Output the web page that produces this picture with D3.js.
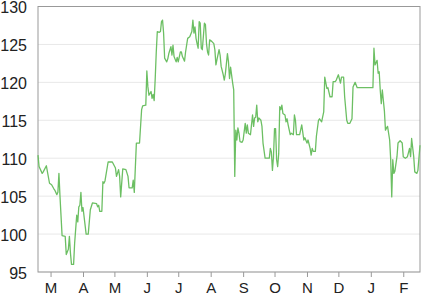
<!DOCTYPE html>
<html>
<head>
<meta charset="utf-8">
<script src="https://cdn.jsdelivr.net/npm/d3@7"></script>
<style>
body { margin: 0; background: #fff; }
</style>
</head>
<body>
<script>
const svg_width = 433;
const svg_height = 295;
const margin = {top: 6.5, right: 13, bottom: 23, left: 38};
const line_color = '#6cbf63';

const x_start = '2013-02-17';
const x_end = '2014-02-17';
const y_ticks = [95, 100, 105, 110, 115, 120, 125, 130];
const month_ticks = ['2013-03-01', '2013-04-01', '2013-05-01', '2013-06-01', '2013-07-01', '2013-08-01',
    '2013-09-01', '2013-10-01', '2013-11-01', '2013-12-01', '2014-01-01', '2014-02-01'];
const month_labels = ['M', 'A', 'M', 'J', 'J', 'A', 'S', 'O', 'N', 'D', 'J', 'F'];

const dates = [
    '2013-02-17', '2013-02-18', '2013-02-21', '2013-02-22', '2013-02-25', '2013-02-28',
    '2013-03-02', '2013-03-04', '2013-03-05', '2013-03-07', '2013-03-08', '2013-03-09', '2013-03-10',
    '2013-03-12', '2013-03-15', '2013-03-16', '2013-03-18', '2013-03-19', '2013-03-20', '2013-03-21',
    '2013-03-23', '2013-03-24', '2013-03-26', '2013-03-27', '2013-03-28', '2013-03-29', '2013-03-30',
    '2013-03-31', '2013-04-01', '2013-04-04', '2013-04-06', '2013-04-08', '2013-04-10', '2013-04-14',
    '2013-04-15', '2013-04-16', '2013-04-17', '2013-04-19', '2013-04-20', '2013-04-21', '2013-04-22',
    '2013-04-25', '2013-04-29', '2013-05-02', '2013-05-03', '2013-05-05', '2013-05-06', '2013-05-07',
    '2013-05-09', '2013-05-12', '2013-05-14', '2013-05-15', '2013-05-18', '2013-05-19', '2013-05-20',
    '2013-05-22', '2013-05-25', '2013-05-27', '2013-05-28', '2013-05-31', '2013-06-01', '2013-06-02',
    '2013-06-03', '2013-06-05', '2013-06-06', '2013-06-07', '2013-06-08', '2013-06-09', '2013-06-10',
    '2013-06-11', '2013-06-13', '2013-06-14', '2013-06-15', '2013-06-16', '2013-06-17', '2013-06-18',
    '2013-06-20', '2013-06-21', '2013-06-22', '2013-06-24', '2013-06-25', '2013-06-26', '2013-06-27',
    '2013-06-29', '2013-06-30', '2013-07-01', '2013-07-03', '2013-07-04', '2013-07-05', '2013-07-07',
    '2013-07-08', '2013-07-10', '2013-07-12', '2013-07-14', '2013-07-15', '2013-07-16', '2013-07-17',
    '2013-07-18', '2013-07-19', '2013-07-20', '2013-07-21', '2013-07-22', '2013-07-23', '2013-07-24',
    '2013-07-26', '2013-07-27', '2013-07-28', '2013-07-29', '2013-07-30', '2013-07-31', '2013-08-02',
    '2013-08-04', '2013-08-05', '2013-08-06', '2013-08-07', '2013-08-09', '2013-08-10', '2013-08-11',
    '2013-08-13', '2013-08-14', '2013-08-15', '2013-08-17', '2013-08-18', '2013-08-19', '2013-08-20',
    '2013-08-22', '2013-08-23', '2013-08-24', '2013-08-25', '2013-08-26', '2013-08-27', '2013-08-28',
    '2013-08-29', '2013-08-31', '2013-09-01', '2013-09-03', '2013-09-04', '2013-09-05', '2013-09-06',
    '2013-09-08', '2013-09-09', '2013-09-10', '2013-09-11', '2013-09-12', '2013-09-13', '2013-09-14',
    '2013-09-15', '2013-09-16', '2013-09-18', '2013-09-19', '2013-09-20', '2013-09-22', '2013-09-26',
    '2013-09-27', '2013-09-28', '2013-09-29', '2013-09-30', '2013-10-01', '2013-10-02', '2013-10-03',
    '2013-10-04', '2013-10-05', '2013-10-06', '2013-10-07', '2013-10-08', '2013-10-09', '2013-10-11',
    '2013-10-12', '2013-10-13', '2013-10-14', '2013-10-16', '2013-10-17', '2013-10-19', '2013-10-20',
    '2013-10-21', '2013-10-22', '2013-10-25', '2013-10-27', '2013-10-29', '2013-10-30', '2013-11-01',
    '2013-11-02', '2013-11-04', '2013-11-05', '2013-11-06', '2013-11-07', '2013-11-09', '2013-11-10',
    '2013-11-12', '2013-11-13', '2013-11-15', '2013-11-17', '2013-11-18', '2013-11-20', '2013-11-21',
    '2013-11-23', '2013-11-25', '2013-11-26', '2013-11-28', '2013-11-29', '2013-12-01', '2013-12-03',
    '2013-12-04', '2013-12-06', '2013-12-07', '2013-12-09', '2013-12-10', '2013-12-12', '2013-12-14',
    '2013-12-15', '2013-12-17', '2013-12-19', '2014-01-03', '2014-01-04', '2014-01-05', '2014-01-07',
    '2014-01-08', '2014-01-09', '2014-01-10', '2014-01-11', '2014-01-12', '2014-01-14', '2014-01-15',
    '2014-01-16', '2014-01-17', '2014-01-19', '2014-01-20', '2014-01-21', '2014-01-22', '2014-01-23',
    '2014-01-24', '2014-01-26', '2014-01-27', '2014-01-29', '2014-01-31', '2014-02-01', '2014-02-03',
    '2014-02-05', '2014-02-07', '2014-02-08', '2014-02-09', '2014-02-11', '2014-02-12', '2014-02-14',
    '2014-02-15', '2014-02-17'
];

const values = [
    110.4, 108.9, 108, 108.2, 109, 106.7,
    106.5, 106, 105.8, 105.2, 105.5, 108, 105,
    99.8, 99.7, 97.3, 98, 99.7, 97.5, 96,
    96, 98.8, 102.5, 101.6, 103.6, 103.8, 105.5,
    103, 103.5, 100, 100, 103.2, 104.1, 104,
    103.6, 103.8, 103, 103, 106.9, 106.7, 107,
    109.5, 109.5, 108.7, 107.6, 108.5, 107.6, 104.9,
    108.6, 108.5, 107.6, 106.1, 106.1, 107.1, 105.5,
    112, 112, 116.4, 116.9, 117, 121.5, 119.4,
    118.3, 118.8, 117.9, 118.4, 117.6, 120.5, 124,
    126.7, 126.6, 126.7, 128, 128.2, 126.5, 123.2,
    122.7, 123.1, 123.8, 124.7, 123.6, 124.9, 123.4,
    122.7, 123.3, 122.7, 124, 124, 123.4, 122.8,
    124, 125.8, 126, 126.7, 128.2, 126.5, 127.3,
    125.8, 125.1, 124.5, 128, 127.8, 124.5, 124.3,
    127.8, 127.6, 125.1, 124, 123.6, 125.6, 125.4,
    125.1, 124.3, 122.3, 123, 124.3, 123.6, 122.1,
    121, 120.3, 121.1, 123.8, 122.7, 120.5, 122,
    119.9, 119, 107.6, 113.7, 112.4, 114, 113.3,
    112.2, 112.1, 112.4, 114.6, 113.3, 114.4, 113.3,
    113.1, 114.4, 115.7, 114.2, 115.3, 115.4, 117,
    114.8, 115.3, 115, 114.2, 112, 110, 110,
    111.3, 110.8, 108.4, 110.2, 113.9, 113.9, 109.8,
    108.9, 110.6, 116.8, 116.4, 117, 115.9, 115.7,
    114.8, 115.2, 114.4, 113.1, 113.3, 113.1, 115.7,
    115, 113.1, 113.1, 114.4, 112.4, 112.7, 112,
    112.4, 111.3, 110.4, 111.3, 110.9, 110.9, 112.9,
    115, 115.2, 114.8, 116.1, 120.7, 119.2, 119.3,
    118.1, 118.1, 120.1, 120.1, 120.3, 121, 119.9,
    120.7, 120.7, 118.1, 115, 114.6, 114.6, 115.2,
    119.4, 120, 119.3, 119.3, 124.5, 122.3, 122.9,
    121.2, 121.4, 119, 117.2, 119, 116.2, 113.7,
    114, 114.2, 112.4, 109.8, 104.9, 109.8, 108,
    108.3, 110.2, 112, 112.3, 112, 110.2, 110,
    110.2, 111.3, 110.2, 112.6, 110.2, 108.2, 108,
    108.4, 111.7
];

const parse = d3.timeParse('%Y-%m-%d');
const data = dates.map((d, i) => ({date: parse(d), value: values[i]}));

const svg = d3.select('body')
    .append('svg')
    .attr('width', svg_width)
    .attr('height', svg_height)
    .style('font-family', '"Liberation Sans", Arial, sans-serif');

const x = d3.scaleTime()
    .domain([parse(x_start), parse(x_end)])
    .range([margin.left, svg_width - margin.right]);
const y = d3.scaleLinear()
    .domain([95, 130])
    .range([svg_height - margin.bottom, margin.top]);

// gridlines
svg.append('g')
    .selectAll('line')
    .data(y_ticks)
    .enter()
    .append('line')
    .attr('x1', margin.left)
    .attr('x2', svg_width - margin.right)
    .attr('y1', d => y(d))
    .attr('y2', d => y(d))
    .attr('stroke', '#e8e8e8')
    .attr('stroke-width', 1);

const x_axis = svg.append('g')
    .attr('transform', `translate(0, ${svg_height - margin.bottom})`)
    .call(d3.axisBottom(x)
        .tickValues(month_ticks.map(parse))
        .tickFormat((d, i) => month_labels[i])
        .tickSize(5)
        .tickPadding(5));
x_axis.select('.domain').remove();
x_axis.selectAll('line').attr('stroke', '#999');
x_axis.selectAll('text').attr('font-size', 15).attr('fill', '#222').attr('font-family', null);

const y_axis = svg.append('g')
    .attr('transform', `translate(${margin.left}, 0)`)
    .call(d3.axisLeft(y)
        .tickValues(y_ticks)
        .tickSize(0)
        .tickPadding(11));
y_axis.select('.domain').remove();
y_axis.selectAll('text')
    .attr('font-size', 16)
    .attr('dy', '0.4em')
    .attr('fill', '#222')
    .attr('font-family', null);

// frame
svg.append('rect')
    .attr('x', margin.left)
    .attr('y', margin.top)
    .attr('width', svg_width - margin.right - margin.left)
    .attr('height', svg_height - margin.bottom - margin.top)
    .attr('fill', 'none')
    .attr('stroke', '#999')
    .attr('stroke-width', 1);

const line = d3.line()
    .x(d => x(d.date))
    .y(d => y(d.value));

svg.append('path')
    .datum(data)
    .attr('d', line)
    .attr('fill', 'none')
    .attr('stroke', line_color)
    .attr('stroke-width', 1.3)
    .attr('stroke-linejoin', 'round');
</script>
</body>
</html>
